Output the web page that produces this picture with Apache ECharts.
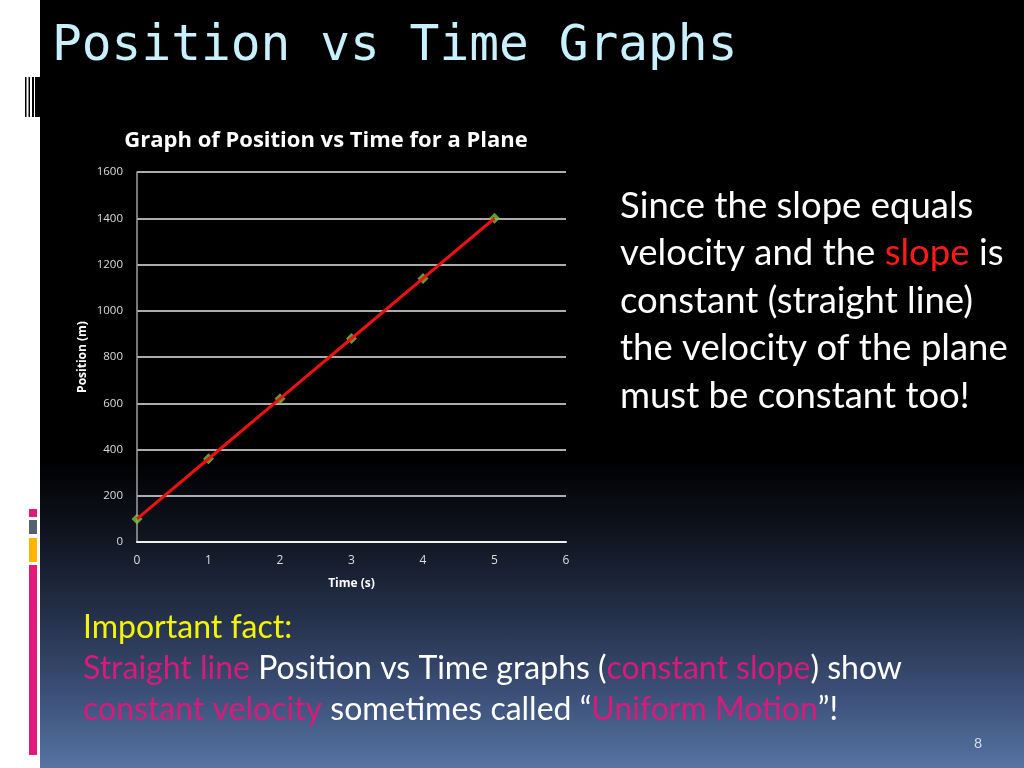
<!DOCTYPE html>
<html>
<head>
<meta charset="utf-8">
<script src="https://cdn.jsdelivr.net/npm/echarts@6/dist/echarts.min.js"></script>
<style>
html,body{margin:0;padding:0;width:1024px;height:768px;overflow:hidden;background:#fff;}
#slide{position:absolute;left:40px;top:0;width:984px;height:768px;
background:linear-gradient(to bottom,#000 0%,#000 60%,#101521 70%,#243049 80%,#3b4e76 90%,#5673a3 100%);}
#chart{position:absolute;left:0;top:0;width:1024px;height:768px;}
</style>
</head>
<body>
<div id="slide"></div>
<div id="chart"></div>
<script>
const timeValues = [0, 1, 2, 3, 4, 5];
const positionValues = [100, 360, 620, 880, 1140, 1400];
const chartTitle = 'Graph of Position vs Time for a Plane';
const xName = 'Time (s)';
const yName = 'Position (m)';

const points = timeValues.map((t, i) => [t, positionValues[i]]);
const chart = echarts.init(document.getElementById('chart'), null, {renderer: 'canvas'});
const sansFont = 'Lato, "Open Sans", sans-serif';
const wideFont = '"Open Sans", Lato, sans-serif';

chart.setOption({
  backgroundColor: 'transparent',
  animation: false,
  title: {
    text: chartTitle,
    left: 321, top: 125, textAlign: 'center',
    textStyle: {color: '#fff', fontSize: 22, fontWeight: 'bold', fontFamily: wideFont}
  },
  grid: {left: 137, right: 458, top: 172, bottom: 226},
  xAxis: {
    type: 'value', min: 0, max: 6, interval: 1,
    name: xName, nameLocation: 'middle', nameGap: 36,
    nameTextStyle: {color: '#fff', fontSize: 12, fontWeight: 'bold', fontFamily: wideFont},
    axisLine: {show: true, lineStyle: {color: '#f0f0f0', width: 2}},
    axisTick: {show: false},
    splitLine: {show: false},
    axisLabel: {color: '#ddd', fontSize: 12, margin: 13, fontFamily: wideFont}
  },
  yAxis: {
    type: 'value', min: 0, max: 1600, interval: 200,
    name: yName, nameLocation: 'middle', nameGap: 48, nameRotate: 90,
    nameTextStyle: {color: '#fff', fontSize: 12, fontWeight: 'bold', fontFamily: wideFont},
    axisLine: {show: true, lineStyle: {color: '#a0a0a0', width: 1.5}},
    axisTick: {show: false},
    splitLine: {show: true, lineStyle: {color: '#e6e6e6', width: 1.5}},
    axisLabel: {color: '#ddd', fontSize: 11.5, margin: 14, fontFamily: wideFont, formatter: v => String(v)}
  },
  series: [
    {
      type: 'scatter', data: points, symbol: 'diamond', symbolSize: 11, z: 2,
      itemStyle: {color: '#7cc142'}
    },
    {
      type: 'line', data: points, showSymbol: false, z: 3,
      lineStyle: {color: '#ee1111', width: 3}
    }
  ],
  graphic: [
    {type: 'rect', shape: {x: 25, y: 77, width: 1.5, height: 40}, style: {fill: '#000'}},
    {type: 'rect', shape: {x: 28.5, y: 77, width: 1.5, height: 40}, style: {fill: '#000'}},
    {type: 'rect', shape: {x: 32, y: 77, width: 2, height: 40}, style: {fill: '#000'}},
    {type: 'rect', shape: {x: 35, y: 77, width: 5, height: 40}, style: {fill: '#000'}},
    {type: 'rect', shape: {x: 29, y: 509, width: 8, height: 8}, style: {fill: '#e0197a'}},
    {type: 'rect', shape: {x: 29, y: 520, width: 8, height: 14}, style: {fill: '#556070'}},
    {type: 'rect', shape: {x: 29, y: 538, width: 8, height: 24}, style: {fill: '#ffb400'}},
    {type: 'rect', shape: {x: 29, y: 565, width: 8, height: 190}, style: {fill: '#e0197a'}},
    {type: 'text', left: 52, top: 22, style: {text: 'Position vs Time Graphs', fill: '#c8f0ff', font: '49.5px "DejaVu Sans Mono", monospace'}},
    {type: 'text', left: 620, top: 182, style: {
      text: 'Since the slope equals\nvelocity and the {r|slope} is\nconstant (straight line)\nthe velocity of the plane\nmust be constant too!',
      fill: '#fff', font: '36.5px ' + sansFont, lineHeight: 47.5,
      rich: {r: {fill: '#ff1a1a', font: '36.5px ' + sansFont}}
    }},
    {type: 'text', left: 83, top: 607, style: {
      text: '{y|Important fact:}\n{p|Straight line} Position vs Time graphs ({p|constant slope}) show\n{p|constant velocity} sometimes called \u201c{p|Uniform Motion}\u201d!',
      fill: '#fff', font: '32px ' + sansFont, lineHeight: 41,
      rich: {
        y: {fill: '#f5f500', font: '32px ' + sansFont},
        p: {fill: '#d81b7a', font: '32px ' + sansFont}
      }
    }},
    {type: 'text', left: 974, top: 736, style: {text: '8', fill: '#d8dde8', font: '14px ' + sansFont}}
  ]
});
</script>
</body>
</html>
